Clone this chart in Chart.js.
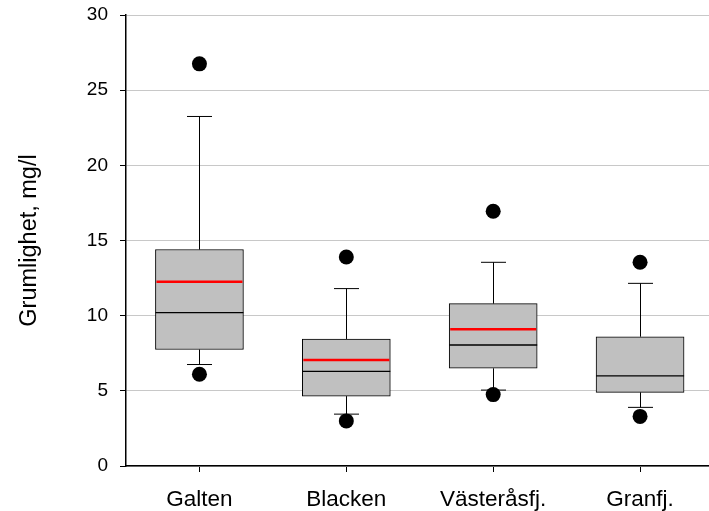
<!DOCTYPE html>
<html>
<head>
<meta charset="utf-8">
<script src="https://cdn.jsdelivr.net/npm/chart.js@4/dist/chart.umd.min.js"></script>
<style>
  html, body { margin: 0; padding: 0; background: #fff; overflow: hidden; }
  #wrap { width: 721px; height: 511px; }
</style>
</head>
<body>
<div id="wrap"><canvas id="chart" width="721" height="511"></canvas></div>
<script>
    // Stationer
    const labels = ['Galten', 'Blacken', 'Västeråsfj.', 'Granfj.'];

    // Lådagram (mg/l)
    const whiskerLow = [6.75, 3.45, 5.05, 3.9];
    const q1 = [7.75, 4.65, 6.5, 4.9];
    const median = [10.2, 6.3, 8.05, 6.0];
    const mean = [12.25, 7.05, 9.1, null];
    const q3 = [14.4, 8.45, 10.8, 8.6];
    const whiskerHigh = [23.25, 11.8, 13.55, 12.15];
    const outlierLow = [6.1, 3.0, 4.75, 3.3];
    const outlierHigh = [26.75, 13.9, 16.95, 13.55];

    const yTicks = [0, 5, 10, 15, 20, 25, 30];

    const FONT = "'Liberation Sans', Arial, sans-serif";

    // Morrhår, medianer och medelvärden ritas via skalorna
    const boxLines = {
        id: 'boxLines',
        beforeDatasetsDraw(chart) {
            const { ctx, scales: { x, y } } = chart;
            ctx.save();
            ctx.strokeStyle = '#000';
            ctx.lineWidth = 1;
            labels.forEach((_, i) => {
                const cx = Math.round(x.getPixelForValue(i)) + 0.5;
                const half = 12.5;
                ctx.beginPath();
                ctx.moveTo(cx, y.getPixelForValue(whiskerHigh[i]));
                ctx.lineTo(cx, y.getPixelForValue(q3[i]));
                ctx.moveTo(cx, y.getPixelForValue(q1[i]));
                ctx.lineTo(cx, y.getPixelForValue(whiskerLow[i]));
                ctx.moveTo(cx - half, y.getPixelForValue(whiskerHigh[i]));
                ctx.lineTo(cx + half, y.getPixelForValue(whiskerHigh[i]));
                ctx.moveTo(cx - half, y.getPixelForValue(whiskerLow[i]));
                ctx.lineTo(cx + half, y.getPixelForValue(whiskerLow[i]));
                ctx.stroke();
            });
            ctx.restore();
        },
        afterDatasetsDraw(chart) {
            const { ctx, scales: { x, y } } = chart;
            const meta = chart.getDatasetMeta(0);
            ctx.save();
            labels.forEach((_, i) => {
                const bar = meta.data[i];
                const left = bar.x - bar.width / 2;
                const right = bar.x + bar.width / 2;
                ctx.strokeStyle = '#000';
                ctx.lineWidth = 1.3;
                ctx.beginPath();
                ctx.moveTo(left, y.getPixelForValue(median[i]));
                ctx.lineTo(right, y.getPixelForValue(median[i]));
                ctx.stroke();
                if (mean[i] !== null) {
                    ctx.strokeStyle = '#ff0000';
                    ctx.lineWidth = 2.5;
                    ctx.beginPath();
                    ctx.moveTo(left + 1, y.getPixelForValue(mean[i]));
                    ctx.lineTo(right - 1, y.getPixelForValue(mean[i]));
                    ctx.stroke();
                }
            });
            ctx.restore();
        }
    };

    const chart = document.getElementById('chart');

    new Chart(chart, {
        type: 'bar',
        data: {
            labels: labels,
            datasets: [
                {
                    label: 'Låda',
                    data: labels.map((_, i) => [q1[i], q3[i]]),
                    backgroundColor: '#c0c0c0',
                    borderColor: '#000',
                    borderWidth: 1,
                    borderSkipped: false,
                    barThickness: 88,
                    order: 2
                },
                {
                    type: 'line',
                    label: 'Avvikare hög',
                    data: outlierHigh,
                    showLine: false,
                    pointRadius: 7.5,
                    pointBackgroundColor: '#000',
                    pointBorderWidth: 0,
                    order: 1
                },
                {
                    type: 'line',
                    label: 'Avvikare låg',
                    data: outlierLow,
                    showLine: false,
                    pointRadius: 7.5,
                    pointBackgroundColor: '#000',
                    pointBorderWidth: 0,
                    order: 1
                }
            ]
        },
        options: {
            responsive: false,
            animation: false,
            devicePixelRatio: 1,
            layout: {
                padding: { top: 15, left: 0, right: 1, bottom: 0 }
            },
            plugins: {
                legend: { display: false },
                tooltip: { enabled: false }
            },
            scales: {
                x: {
                    offset: true,
                    border: { display: true, color: '#000', width: 1.5 },
                    grid: {
                        offset: false,
                        color: 'rgba(0,0,0,0)',
                        tickColor: '#000',
                        tickLength: 6,
                        drawOnChartArea: false
                    },
                    ticks: {
                        color: '#000',
                        padding: 14,
                        font: { family: FONT, size: 22.5 }
                    },
                    afterFit(scale) {
                        scale.height = 45;
                        scale.paddingLeft = 0;
                        scale.paddingRight = 0;
                    }
                },
                y: {
                    min: 0,
                    max: 30,
                    afterBuildTicks(scale) { scale.ticks = yTicks.map(v => ({ value: v })); },
                    border: { display: true, color: '#000', width: 1.5 },
                    grid: {
                        color: '#c8c8c8',
                        tickColor: '#000',
                        tickLength: 6
                    },
                    ticks: {
                        color: '#000',
                        padding: 12,
                        font: { family: FONT, size: 19 }
                    },
                    title: {
                        display: true,
                        text: 'Grumlighet, mg/l',
                        color: '#000',
                        padding: { top: 15, bottom: 0 },
                        font: { family: FONT, size: 23.5 }
                    },
                    afterFit(scale) {
                        scale.width = 126;
                        scale.paddingTop = 0;
                        scale.paddingBottom = 0;
                    }
                }
            }
        },
        plugins: [boxLines]
    });
</script>
</body>
</html>
